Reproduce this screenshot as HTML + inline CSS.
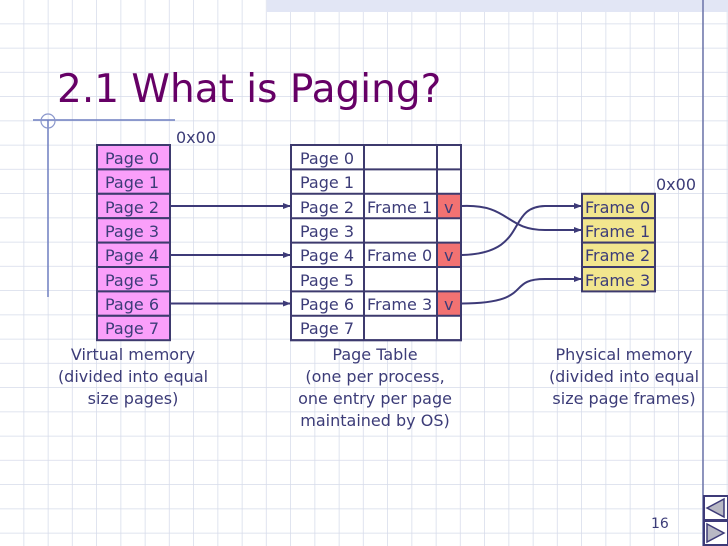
<!DOCTYPE html>
<html><head><meta charset="utf-8"><style>
html,body{margin:0;padding:0;background:#fff;}
svg{display:block;}
text{font-family:"DejaVu Sans","Liberation Sans",sans-serif;}
</style></head><body>
<svg width="728" height="546" viewBox="0 0 728 546" xmlns="http://www.w3.org/2000/svg">
<defs>
<pattern id="g" width="24.25" height="24.25" patternUnits="userSpaceOnUse" x="0" y="0">
<path d="M24.25 0V24.25M0 24.25H24.25" stroke="#d6dbea" stroke-width="1.5" fill="none"/>
</pattern>
<marker id="ah" markerWidth="8" markerHeight="8" refX="7" refY="4" orient="auto" markerUnits="userSpaceOnUse">
<path d="M0,1 L8,4 L0,7 Z" fill="#3d3a78"/>
</marker>
</defs>
<rect width="728" height="546" fill="url(#g)"/>
<rect x="267" y="0" width="461" height="12" fill="#e2e6f5"/>
<line x1="703" y1="0" x2="703" y2="546" stroke="#6a72a8" stroke-width="1.5"/>
<text x="57" y="102" font-size="39" fill="#660066">2.1 What is Paging?</text>
<line x1="33" y1="120" x2="175" y2="120" stroke="#6f7fc0" stroke-width="1.5"/>
<line x1="48" y1="120" x2="48" y2="297" stroke="#6f7fc0" stroke-width="1.5"/>
<circle cx="48" cy="121" r="7" fill="none" stroke="#8a97cc" stroke-width="1.2"/>

<g font-size="16" fill="#3c3c78">
<text x="176" y="143">0x00</text>
<text x="656" y="190">0x00</text>
</g>

<g stroke="#3d3a6e" stroke-width="2" fill="#fa9ffa">
<rect x="97" y="145" width="73" height="24.4"/>
<rect x="97" y="169.4" width="73" height="24.4"/>
<rect x="97" y="193.8" width="73" height="24.4"/>
<rect x="97" y="218.2" width="73" height="24.4"/>
<rect x="97" y="242.6" width="73" height="24.4"/>
<rect x="97" y="267" width="73" height="24.4"/>
<rect x="97" y="291.4" width="73" height="24.4"/>
<rect x="97" y="315.8" width="73" height="24.4"/>
</g>
<g font-size="16" fill="#3c3c78">
<text x="105" y="164">Page 0</text>
<text x="105" y="188">Page 1</text>
<text x="105" y="213">Page 2</text>
<text x="105" y="237">Page 3</text>
<text x="105" y="261">Page 4</text>
<text x="105" y="286">Page 5</text>
<text x="105" y="310">Page 6</text>
<text x="105" y="334">Page 7</text>
</g>

<g stroke="#3d3a6e" stroke-width="2" fill="#fff">
<rect x="291" y="145" width="170" height="195.2"/>
</g>
<g fill="#f27272">
<rect x="437" y="193.8" width="24" height="24.4"/>
<rect x="437" y="242.6" width="24" height="24.4"/>
<rect x="437" y="291.4" width="24" height="24.4"/>
</g>
<g stroke="#3d3a6e" stroke-width="2">
<line x1="364" y1="145" x2="364" y2="340"/>
<line x1="437" y1="145" x2="437" y2="340"/>
<line x1="461" y1="145" x2="461" y2="340"/>
<line x1="291" y1="169.4" x2="461" y2="169.4"/>
<line x1="291" y1="193.8" x2="461" y2="193.8"/>
<line x1="291" y1="218.2" x2="461" y2="218.2"/>
<line x1="291" y1="242.6" x2="461" y2="242.6"/>
<line x1="291" y1="267" x2="461" y2="267"/>
<line x1="291" y1="291.4" x2="461" y2="291.4"/>
<line x1="291" y1="315.8" x2="461" y2="315.8"/>
<rect x="291" y="145" width="170" height="195.2" fill="none"/>
</g>
<g font-size="16" fill="#3c3c78">
<text x="300" y="164">Page 0</text>
<text x="300" y="188">Page 1</text>
<text x="300" y="213">Page 2</text>
<text x="300" y="237">Page 3</text>
<text x="300" y="261">Page 4</text>
<text x="300" y="286">Page 5</text>
<text x="300" y="310">Page 6</text>
<text x="300" y="334">Page 7</text>
<text x="367" y="213">Frame 1</text>
<text x="367" y="261">Frame 0</text>
<text x="367" y="310">Frame 3</text>
<text x="444" y="213">v</text>
<text x="444" y="261">v</text>
<text x="444" y="310">v</text>
</g>

<g stroke="#3d3a6e" stroke-width="2" fill="#f2e68e">
<rect x="582" y="193.8" width="73" height="24.4"/>
<rect x="582" y="218.2" width="73" height="24.4"/>
<rect x="582" y="242.6" width="73" height="24.4"/>
<rect x="582" y="267" width="73" height="24.4"/>
</g>
<g font-size="16" fill="#3c3c78">
<text x="585" y="213">Frame 0</text>
<text x="585" y="237">Frame 1</text>
<text x="585" y="261">Frame 2</text>
<text x="585" y="286">Frame 3</text>
</g>

<g stroke="#3d3a78" stroke-width="2" fill="none" marker-end="url(#ah)">
<line x1="171" y1="206" x2="290" y2="206"/>
<line x1="171" y1="255" x2="290" y2="255"/>
<line x1="171" y1="303.5" x2="290" y2="303.5"/>
<path d="M462,206 C510,204 505,230 545,230 L581,230"/>
<path d="M462,255 C530,253 505,207 545,206 L581,206"/>
<path d="M462,303.5 C535,303 505,279 545,279 L581,279"/>
</g>

<g font-size="16" fill="#3c3c78" text-anchor="middle">
<text x="133" y="360">Virtual memory</text>
<text x="133" y="382">(divided into equal</text>
<text x="133" y="404">size pages)</text>
<text x="375" y="360">Page Table</text>
<text x="375" y="382">(one per process,</text>
<text x="375" y="404">one entry per page</text>
<text x="375" y="426">maintained by OS)</text>
<text x="624" y="360">Physical memory</text>
<text x="624" y="382">(divided into equal</text>
<text x="624" y="404">size page frames)</text>
</g>

<text x="651" y="528" font-size="14" fill="#3c3c78">16</text>
<g stroke="#3d3a78" stroke-width="2">
<rect x="704" y="496" width="24" height="24" fill="#fff"/>
<rect x="704" y="521" width="24" height="24" fill="#fff"/>
</g>
<path d="M707,508 L724,499 L724,517 Z" fill="#b8b8c4" stroke="#3d3a78" stroke-width="1.5"/>
<path d="M724,533 L707,524 L707,542 Z" fill="#b8b8c4" stroke="#3d3a78" stroke-width="1.5"/>
</svg>
</body></html>
